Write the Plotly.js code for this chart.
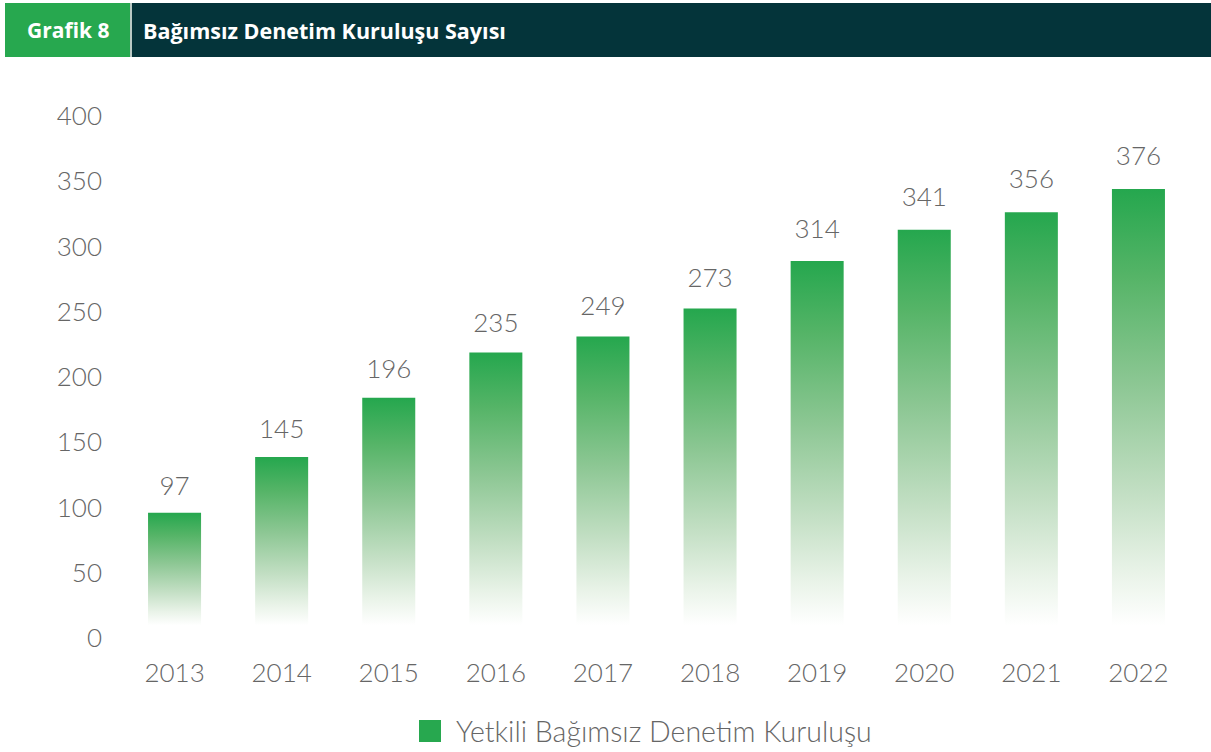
<!DOCTYPE html>
<html>
<head>
<meta charset="utf-8">
<script src="https://cdn.plot.ly/plotly-3.0.1.min.js"></script>
<style>
  html, body { margin: 0; padding: 0; background: #ffffff; }
  #chart { width: 1211px; height: 752px; }
  #gradDefs { position: absolute; width: 0; height: 0; overflow: hidden; }
  #chart .bars .point path { fill: url(#barFade) !important; }
</style>
</head>
<body>
<svg id="gradDefs" width="0" height="0" aria-hidden="true">
  <defs>
    <linearGradient id="barFade" x1="0" y1="0" x2="0" y2="1">
      <stop offset="0" stop-color="#25a74e"/>
      <stop offset="0.2" stop-color="#55b467"/>
      <stop offset="0.45" stop-color="#8dc794"/>
      <stop offset="0.7" stop-color="#c3dfc4"/>
      <stop offset="0.88" stop-color="#e9f3e8"/>
      <stop offset="1" stop-color="#ffffff"/>
    </linearGradient>
  </defs>
</svg>
<div id="chart"></div>
<script>
// ---- data ----
const years = ['2013', '2014', '2015', '2016', '2017', '2018', '2019', '2020', '2021', '2022'];
const counts = [97, 145, 196, 235, 249, 273, 314, 341, 356, 376];
const yTickVals = [0, 50, 100, 150, 200, 250, 300, 350, 400];
const seriesName = 'Yetkili Bağımsız Denetim Kuruluşu';
const chartLabel = 'Grafik 8';
const chartTitle = 'Bağımsız Denetim Kuruluşu Sayısı';

// ---- style ----
const GREEN = '#27a84f';
const DARK = '#04343a';
const TXT = '#666666';
const FONT = 'Lato, "Noto Sans", sans-serif';
const HFONT = '"Open Sans", Lato, sans-serif';

// pixel helpers for plot area (l=121, r=19, t=100, b=102)
const L = 121, W = 1071, T = 100, H = 550;
const px = v => (v - L) / W;
const py = v => (T + H - v) / H;

// trace that anchors the visible value axis (draws nothing)
const axisAnchor = {
  type: 'scatter',
  mode: 'none',
  x: years,
  y: counts,
  yaxis: 'y',
  hoverinfo: 'skip',
  showlegend: false
};

const bars = {
  type: 'bar',
  x: years,
  y: counts,
  yaxis: 'y2',
  marker: { color: GREEN, line: { width: 0 } },
  hoverinfo: 'x+y',
  showlegend: false
};

const labels = {
  type: 'scatter',
  mode: 'text',
  x: years,
  y: counts,
  yaxis: 'y3',
  text: counts.map(String),
  textposition: 'middle center',
  textfont: { family: FONT, size: 26, color: TXT, weight: 300 },
  hoverinfo: 'skip',
  showlegend: false
};

const layout = {
  width: 1211,
  height: 752,
  margin: { l: L, r: 19, t: T, b: 102 },
  paper_bgcolor: '#ffffff',
  plot_bgcolor: '#ffffff',
  font: { family: FONT, color: TXT },
  bargap: 0.505,
  showlegend: false,
  xaxis: {
    type: 'category',
    range: [-0.5, 9.5],
    showgrid: false, zeroline: false, showline: false,
    ticks: '',
    tickfont: { family: FONT, size: 26, color: TXT, weight: 300 },
    ticklabelstandoff: 5,
    fixedrange: true
  },
  yaxis: {
    range: [-9.2, 412.3],
    tickvals: yTickVals,
    showgrid: false, zeroline: false, showline: false,
    ticks: '',
    tickfont: { family: FONT, size: 26, color: TXT, weight: 300 },
    ticklabelstandoff: 18,
    fixedrange: true
  },
  yaxis2: {
    overlaying: 'y',
    range: [-21.4, 452.8],
    visible: false,
    fixedrange: true
  },
  yaxis3: {
    overlaying: 'y',
    range: [-38.8, 424.9],
    visible: false,
    fixedrange: true
  },
  shapes: [
    { type: 'rect', xref: 'paper', yref: 'paper', layer: 'above',
      x0: px(5), x1: px(130), y0: py(57), y1: py(3),
      fillcolor: GREEN, line: { width: 0 } },
    { type: 'rect', xref: 'paper', yref: 'paper', layer: 'above',
      x0: px(130), x1: px(132), y0: py(57), y1: py(3),
      fillcolor: '#b9c9c4', line: { width: 0 } },
    { type: 'rect', xref: 'paper', yref: 'paper', layer: 'above',
      x0: px(132), x1: px(1212), y0: py(57), y1: py(3),
      fillcolor: DARK, line: { width: 0 } },
    { type: 'rect', xref: 'paper', yref: 'paper', layer: 'above',
      x0: px(419), x1: px(441), y0: py(742), y1: py(720),
      fillcolor: GREEN, line: { width: 0 } }
  ],
  annotations: [
    { text: '<b>' + chartLabel + '</b>', xref: 'paper', yref: 'paper',
      x: px(67.5), y: py(30), xanchor: 'center', yanchor: 'middle',
      showarrow: false, font: { family: HFONT, size: 21, color: '#ffffff' } },
    { text: '<b>' + chartTitle + '</b>', xref: 'paper', yref: 'paper',
      x: px(141), y: py(31), xanchor: 'left', yanchor: 'middle',
      showarrow: false, font: { family: HFONT, size: 21.5, color: '#ffffff' } },
    { text: seriesName, xref: 'paper', yref: 'paper',
      x: px(454), y: py(731), xanchor: 'left', yanchor: 'middle',
      showarrow: false, font: { family: FONT, size: 28.5, color: TXT, weight: 300 } }
  ]
};

Plotly.newPlot('chart', [axisAnchor, bars, labels], layout, { displayModeBar: false, staticPlot: true });
</script>
</body>
</html>
